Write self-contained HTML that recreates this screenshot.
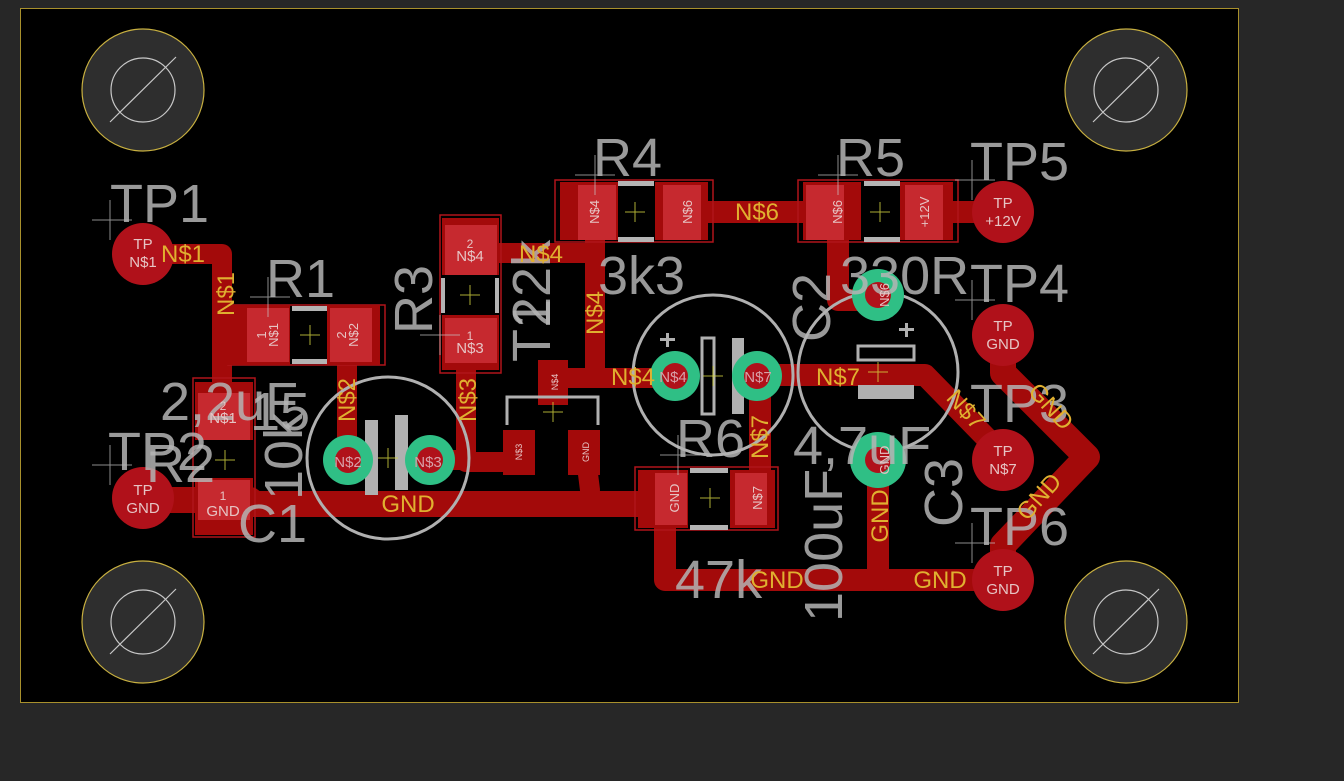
<!DOCTYPE html>
<html><head><meta charset="utf-8"><style>
html,body{margin:0;padding:0;background:#272727;}
svg{display:block;font-family:"Liberation Sans",sans-serif;}
</style></head><body>
<svg width="1344" height="781" viewBox="0 0 1344 781" xmlns="http://www.w3.org/2000/svg">
<rect x="0" y="0" width="1344" height="781" fill="#272727"/>
<rect x="20.5" y="8.5" width="1218" height="694" fill="#000" stroke="#a8902c" stroke-width="1"/>
<g stroke-width="1.2">
<g transform="translate(143,90)"><circle r="61" fill="#2e2e2e" stroke="#c8b040"/><circle r="32" fill="none" stroke="#c8c8c8"/><line x1="-33" y1="32" x2="33" y2="-33" stroke="#c8c8c8"/></g>
<g transform="translate(1126,90)"><circle r="61" fill="#2e2e2e" stroke="#c8b040"/><circle r="32" fill="none" stroke="#c8c8c8"/><line x1="-33" y1="32" x2="33" y2="-33" stroke="#c8c8c8"/></g>
<g transform="translate(143,622)"><circle r="61" fill="#2e2e2e" stroke="#c8b040"/><circle r="32" fill="none" stroke="#c8c8c8"/><line x1="-33" y1="32" x2="33" y2="-33" stroke="#c8c8c8"/></g>
<g transform="translate(1126,622)"><circle r="61" fill="#2e2e2e" stroke="#c8b040"/><circle r="32" fill="none" stroke="#c8c8c8"/><line x1="-33" y1="32" x2="33" y2="-33" stroke="#c8c8c8"/></g>
</g>
<g fill="none" stroke="#a30a0a" stroke-linejoin="round" stroke-linecap="round">
<polyline stroke-width="20" points="143,254 222,254 222,400"/>
<line stroke-width="20" x1="222" y1="335" x2="260" y2="335"/>
<line stroke-width="20" x1="347" y1="360" x2="347" y2="450"/>
<polyline stroke-width="20" points="466,340 466,462 515,462"/>
<line stroke-width="20" x1="428" y1="460" x2="466" y2="460"/>
<polyline stroke-width="20" points="485,253 595,253 595,205"/>
<polyline stroke-width="20" points="595,253 595,378 675,378"/>
<line stroke-width="20" x1="553" y1="378" x2="595" y2="378"/>
<line stroke-width="22" x1="680" y1="212" x2="840" y2="212"/>
<line stroke-width="22" x1="920" y1="212" x2="1003" y2="212"/>
<polyline stroke-width="22" points="838,215 838,300 878,300"/>
<polyline stroke-width="22" points="755,375 925,375 1003,455"/>
<line stroke-width="22" x1="760" y1="375" x2="760" y2="485"/>
<polyline stroke-width="26" points="145,500 250,500"/>
<polyline stroke-width="26" points="225,504 660,504"/>
<polyline stroke-width="20" points="585,450 590,490"/>
<polyline stroke-width="22" points="665,500 665,580 1003,580"/>
<line stroke-width="22" x1="878" y1="460" x2="878" y2="580"/>
<polyline stroke-width="26" points="1003,335 1003,373 1087,457 1003,545 1003,580"/>
</g>
<g fill="#b0111a">
<circle cx="143" cy="254" r="31"/><circle cx="143" cy="498" r="31"/>
<circle cx="1003" cy="212" r="31"/><circle cx="1003" cy="335" r="31"/>
<circle cx="1003" cy="460" r="31"/><circle cx="1003" cy="580" r="31"/>
</g>
<g fill="none" stroke="#b0141a" stroke-width="1.5">
<rect x="228" y="305" width="157" height="60"/>
<rect x="193" y="378" width="62" height="159"/>
<rect x="440" y="215" width="61" height="158"/>
<rect x="555" y="180" width="158" height="62"/>
<rect x="798" y="180" width="160" height="62"/>
<rect x="635" y="467" width="143" height="63"/>
</g>
<g fill="#a30a0a">
<rect x="225" y="305" width="65" height="60"/><rect x="325" y="305" width="55" height="60"/>
<rect x="195" y="382" width="58" height="58"/><rect x="195" y="478" width="58" height="57"/>
<rect x="442" y="218" width="57" height="57"/><rect x="442" y="315" width="57" height="55"/>
<rect x="560" y="182" width="58" height="58"/><rect x="655" y="182" width="53" height="58"/>
<rect x="803" y="182" width="58" height="58"/><rect x="895" y="182" width="58" height="58"/>
<rect x="638" y="470" width="50" height="58"/><rect x="730" y="470" width="45" height="58"/>
<rect x="538" y="360" width="30" height="45"/><rect x="503" y="430" width="32" height="45"/><rect x="568" y="430" width="32" height="45"/>
</g>
<g fill="#d2343c" opacity="0.75">
<rect x="247" y="308" width="42" height="54"/><rect x="330" y="308" width="42" height="54"/>
<rect x="198" y="393" width="52" height="47"/><rect x="198" y="480" width="52" height="40"/>
<rect x="445" y="225" width="52" height="50"/><rect x="445" y="318" width="52" height="45"/>
<rect x="578" y="185" width="38" height="55"/><rect x="663" y="185" width="38" height="55"/>
<rect x="806" y="185" width="38" height="55"/><rect x="905" y="185" width="38" height="55"/>
<rect x="655" y="473" width="32" height="52"/><rect x="735" y="473" width="32" height="52"/>
</g>
<g fill="#000">
<rect x="292" y="310" width="35" height="50"/>
<rect x="445" y="278" width="50" height="35"/>
<rect x="618" y="185" width="36" height="55"/>
<rect x="864" y="185" width="36" height="55"/>
<rect x="690" y="473" width="38" height="52"/>
<rect x="200" y="443" width="48" height="33"/>
</g>
<g fill="#b4b4b4">
<rect x="292" y="306" width="35" height="5"/><rect x="292" y="359" width="35" height="5"/>
<rect x="618" y="181" width="36" height="5"/><rect x="618" y="237" width="36" height="5"/>
<rect x="864" y="181" width="36" height="5"/><rect x="864" y="237" width="36" height="5"/>
<rect x="690" y="468" width="38" height="5"/><rect x="690" y="525" width="38" height="5"/>
<rect x="441" y="278" width="4" height="35"/><rect x="495" y="278" width="4" height="35"/>
</g>
<g fill="none" stroke="#b0b0b0" stroke-width="3">
<circle cx="388" cy="458" r="81"/>
<circle cx="713" cy="375" r="80"/>
<circle cx="878" cy="372" r="80"/>
<polyline points="507,425 507,397 598,397 598,425"/>
<rect x="702" y="338" width="12" height="76"/>
<rect x="858" y="346" width="56" height="14"/>
</g>
<g fill="#b0b0b0">
<rect x="365" y="420" width="13" height="75"/><rect x="395" y="415" width="13" height="75"/>
<rect x="732" y="338" width="12" height="76"/><rect x="858" y="385" width="56" height="14"/>
<rect x="666" y="333" width="3" height="14"/><rect x="660" y="338" width="15" height="3"/>
<rect x="905" y="323" width="3" height="14"/><rect x="899" y="328" width="15" height="3"/>
</g>
<g>
<g fill="#2fbf85"><circle cx="348" cy="460" r="25"/><circle cx="430" cy="460" r="25"/><circle cx="675" cy="376" r="25"/><circle cx="757" cy="376" r="25"/><circle cx="878" cy="295" r="26"/><circle cx="878" cy="460" r="28"/></g>
<g fill="#b0111a"><circle cx="348" cy="460" r="13"/><circle cx="430" cy="460" r="13"/><circle cx="675" cy="376" r="13"/><circle cx="757" cy="376" r="13"/><circle cx="878" cy="295" r="13"/><circle cx="878" cy="460" r="13"/></g>
</g>
<g stroke="#c8c8c8" stroke-width="1" opacity="0.7">
<path d="M92,220h40M110,200v40M92,465h40M110,445v40M250,297h40M268,277v40M575,175h40M595,155v40M818,175h40M838,155v40M955,180h40M972,160v40M955,300h40M972,280v40M955,543h40M972,523v40M420,335h40M440,315v40M660,455h40M678,435v40"/>
</g>
<g stroke="#d8d840" stroke-width="1" opacity="0.8">
<path d="M300,335h20M310,325v20M460,295h20M470,285v20M625,212h20M635,202v20M870,212h20M880,202v20M700,498h20M710,488v20M215,460h20M225,450v20M543,412h20M553,402v20M703,376h20M713,366v20M868,372h20M878,362v20M378,458h20M388,448v20"/>
</g>
<g fill="#b4b4b4" fill-opacity="0.85" font-size="54">
<text x="110" y="222">TP1</text>
<text x="266" y="297">R1</text>
<text x="593" y="176">R4</text>
<text x="836" y="176">R5</text>
<text x="970" y="180">TP5</text>
<text x="970" y="302">TP4</text>
<text x="970" y="422">TP3</text>
<text x="970" y="545">TP6</text>
<text x="108" y="470">TP2</text>
<text x="238" y="542">C1</text>
<text x="676" y="457">R6</text>
<text x="598" y="294">3k3</text>
<text x="840" y="294">330R</text>
<text x="675" y="598">47k</text>
<text x="793" y="464">4,7uF</text>
<text x="160" y="420">2,2uF</text>
<text x="146" y="482">R2</text>
<text transform="translate(432,334) rotate(-90)">R3</text>
<text transform="translate(550,327) rotate(-90)">22k</text>
<text transform="translate(550,362) rotate(-90)">T1</text>
<text transform="translate(302,500) rotate(-90)">10k</text>
<text transform="translate(842,622) rotate(-90)">100uF</text>
<text transform="translate(962,527) rotate(-90)">C3</text>
<text transform="translate(830,342) rotate(-90)">C2</text>
<text x="250" y="430">15</text>
</g>
<g fill="#e6c4c4" font-size="15" text-anchor="middle">
<text x="143" y="249">TP</text><text x="143" y="267">N$1</text>
<text x="143" y="495">TP</text><text x="143" y="513">GND</text>
<text x="1003" y="208">TP</text><text x="1003" y="226">+12V</text>
<text x="1003" y="331">TP</text><text x="1003" y="349">GND</text>
<text x="1003" y="456">TP</text><text x="1003" y="474">N$7</text>
<text x="1003" y="576">TP</text><text x="1003" y="594">GND</text>
<text x="470" y="248" font-size="12">2</text><text x="470" y="261">N$4</text>
<text x="470" y="340" font-size="12">1</text><text x="470" y="353">N$3</text>
<text x="223" y="410" font-size="12">2</text><text x="223" y="423">N$1</text>
<text x="223" y="500" font-size="12">1</text><text x="223" y="516">GND</text>
<text x="348" y="467" fill="#d8a0a8">N$2</text><text x="428" y="467" fill="#d8a0a8">N$3</text>
<text x="673" y="382" fill="#d8a0a8">N$4</text><text x="758" y="382" fill="#d8a0a8">N$7</text>
<text transform="translate(266,335) rotate(-90)" font-size="13">1</text><text transform="translate(272,335) rotate(-90)" font-size="13" dy="6">N$1</text>
<text transform="translate(346,335) rotate(-90)" font-size="13">2</text><text transform="translate(352,335) rotate(-90)" font-size="13" dy="6">N$2</text>
<text transform="translate(595,212) rotate(-90)" font-size="13" dy="4">N$4</text>
<text transform="translate(688,212) rotate(-90)" font-size="13" dy="4">N$6</text>
<text transform="translate(838,212) rotate(-90)" font-size="13" dy="4">N$6</text>
<text transform="translate(925,212) rotate(-90)" font-size="13" dy="4">+12V</text>
<text transform="translate(675,498) rotate(-90)" font-size="13" dy="4">GND</text>
<text transform="translate(758,498) rotate(-90)" font-size="13" dy="4">N$7</text>
<text transform="translate(885,295) rotate(-90)" font-size="13" dy="4">N$6</text>
<text transform="translate(885,460) rotate(-90)" font-size="13" dy="4">GND</text>
<text transform="translate(555,382) rotate(-90)" font-size="9" dy="3">N$4</text>
<text transform="translate(519,452) rotate(-90)" font-size="9" dy="3">N$3</text>
<text transform="translate(586,452) rotate(-90)" font-size="9" dy="3">GND</text>
</g>
<g fill="#e0b030" font-size="24" text-anchor="middle">
<text x="183" y="262">N$1</text>
<text x="541" y="262">N$4</text>
<text x="633" y="385">N$4</text>
<text x="757" y="220">N$6</text>
<text x="838" y="385">N$7</text>
<text x="408" y="512">GND</text>
<text x="777" y="588">GND</text>
<text x="940" y="588">GND</text>
<text transform="translate(234,294) rotate(-90)">N$1</text>
<text transform="translate(355,400) rotate(-90)">N$2</text>
<text transform="translate(476,400) rotate(-90)">N$3</text>
<text transform="translate(603,313) rotate(-90)">N$4</text>
<text transform="translate(768,437) rotate(-90)">N$7</text>
<text transform="translate(888,516) rotate(-90)">GND</text>
<text transform="translate(960,415) rotate(48)">N$7</text>
<text transform="translate(1045,412) rotate(48)">GND</text>
<text transform="translate(1045,502) rotate(-48)">GND</text>
</g>
</svg>
</body></html>
